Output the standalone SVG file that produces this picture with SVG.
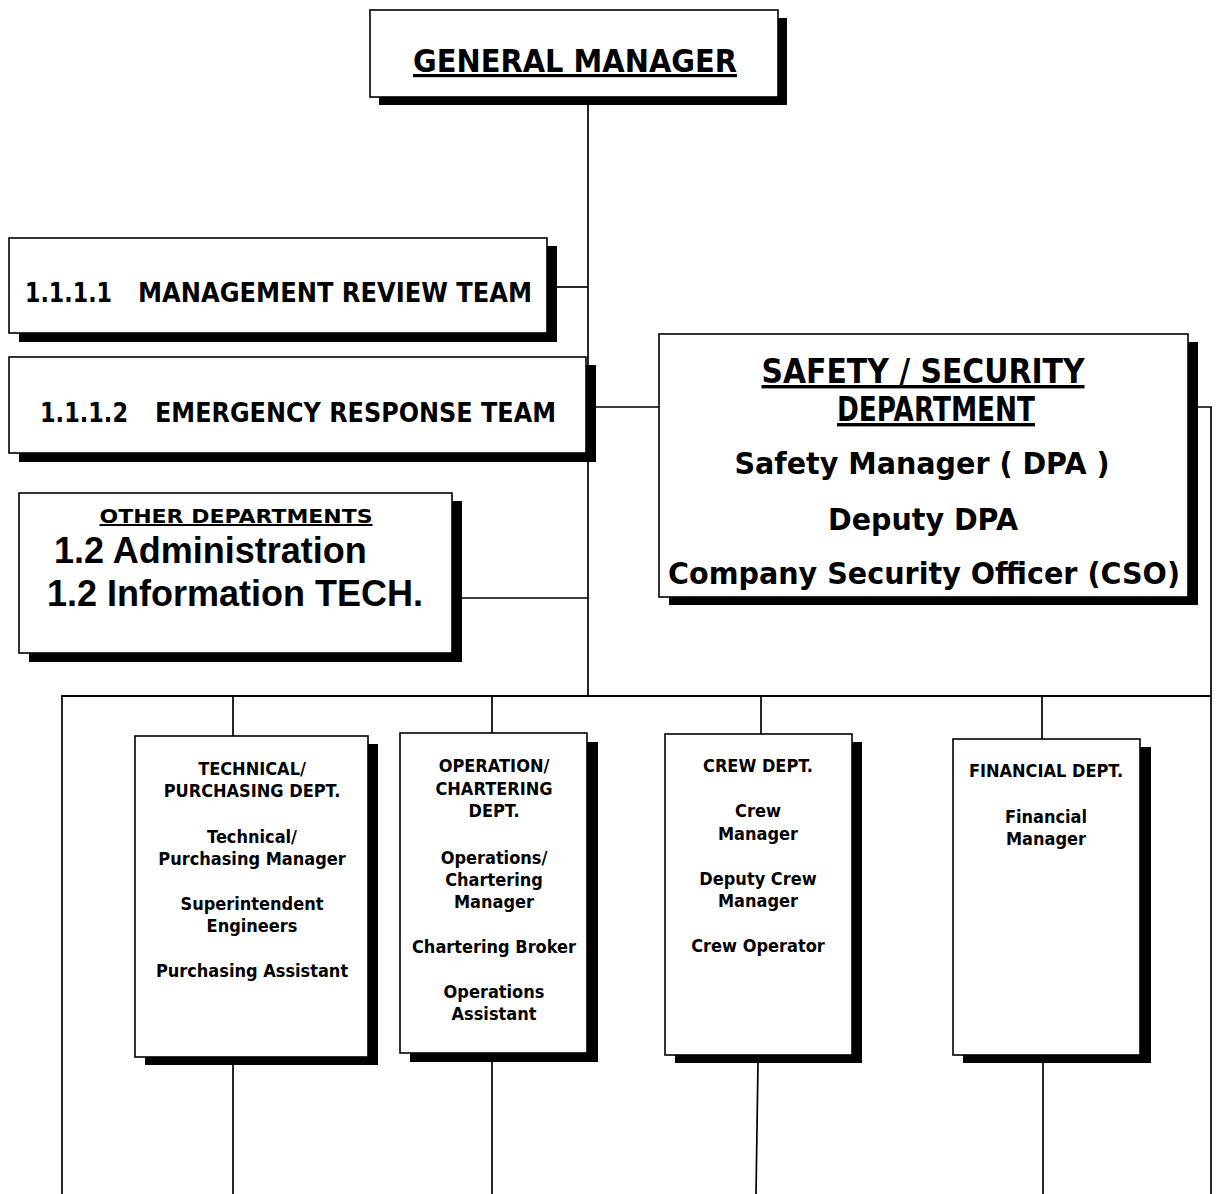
<svg xmlns="http://www.w3.org/2000/svg" width="1216" height="1194" viewBox="0 0 1216 1194">
<style>
  .sh { fill: #000; }
  .bx { fill: #fff; stroke: #000; stroke-width: 1.6; }
  .ln { stroke: #000; stroke-width: 1.7; fill: none; }
  text { font-family: "DejaVu Sans", Verdana, sans-serif; font-weight: bold; fill: #000; }
  .c { text-anchor: middle; }
  .u { text-decoration: underline; }
  .d { font-size: 18px; text-anchor: middle; }
  .ar { font-family: "Liberation Sans", Arial, sans-serif; font-size: 36px; }
</style>
<rect width="1216" height="1194" fill="#fff"/>

<g id="connectors">
  <line class="ln" x1="588" y1="97" x2="588" y2="696"/>
  <line class="ln" x1="557" y1="287" x2="588" y2="287"/>
  <line class="ln" x1="596" y1="407" x2="659" y2="407"/>
  <line class="ln" x1="462" y1="598" x2="588" y2="598"/>
  <polyline class="ln" points="1198,407 1211,407 1211,1194"/>
  <line class="ln" x1="61" y1="696" x2="1211" y2="696" style="stroke-width:2"/>
  <line class="ln" x1="62" y1="696" x2="62" y2="1194"/>
  <line class="ln" x1="233" y1="696" x2="233" y2="736"/>
  <line class="ln" x1="492" y1="696" x2="492" y2="734"/>
  <line class="ln" x1="761" y1="696" x2="761" y2="734"/>
  <line class="ln" x1="1042" y1="696" x2="1042" y2="739"/>
  <line class="ln" x1="233" y1="1065" x2="233" y2="1194"/>
  <line class="ln" x1="492" y1="1062" x2="492" y2="1194"/>
  <line class="ln" x1="758" y1="1063" x2="756" y2="1194"/>
  <line class="ln" x1="1043" y1="1063" x2="1043" y2="1194"/>
</g>

<g id="general-manager">
  <rect class="sh" x="379" y="18" width="408" height="87"/>
  <rect class="bx" x="370" y="10" width="408" height="87"/>
  <text class="c u" x="575" y="72" font-size="32" textLength="324" lengthAdjust="spacingAndGlyphs">GENERAL MANAGER</text>
</g>

<g id="management-review-team">
  <rect class="sh" x="19" y="246" width="538" height="96"/>
  <rect class="bx" x="9" y="238" width="538" height="95"/>
  <text x="25" y="302" font-size="26" textLength="87" lengthAdjust="spacingAndGlyphs">1.1.1.1</text>
  <text x="138" y="302" font-size="26" textLength="394" lengthAdjust="spacingAndGlyphs">MANAGEMENT REVIEW TEAM</text>
</g>

<g id="emergency-response-team">
  <rect class="sh" x="19" y="365" width="577" height="97"/>
  <rect class="bx" x="9" y="357" width="577" height="96"/>
  <text x="40" y="422" font-size="26" textLength="88" lengthAdjust="spacingAndGlyphs">1.1.1.2</text>
  <text x="155" y="422" font-size="26" textLength="401" lengthAdjust="spacingAndGlyphs">EMERGENCY RESPONSE TEAM</text>
</g>

<g id="other-departments">
  <rect class="sh" x="29" y="501" width="433" height="161"/>
  <rect class="bx" x="19" y="493" width="433" height="160"/>
  <text class="c u" x="236" y="523" font-size="20" textLength="273" lengthAdjust="spacingAndGlyphs">OTHER DEPARTMENTS</text>
  <text class="ar" x="54" y="563" font-weight="bold">1.2 Administration</text>
  <text class="ar" x="47" y="606" font-weight="bold">1.2 Information TECH.</text>
</g>

<g id="safety-security-department">
  <rect class="sh" x="669" y="342" width="529" height="263"/>
  <rect class="bx" x="659" y="334" width="529" height="263"/>
  <text class="c u" x="923" y="383" font-size="34" textLength="323" lengthAdjust="spacingAndGlyphs">SAFETY / SECURITY</text>
  <text class="c u" x="936" y="421" font-size="34" textLength="198" lengthAdjust="spacingAndGlyphs">DEPARTMENT</text>
  <text class="c" x="922" y="474" font-size="30" textLength="375" lengthAdjust="spacingAndGlyphs">Safety Manager ( DPA )</text>
  <text class="c" x="923" y="530" font-size="30" textLength="190" lengthAdjust="spacingAndGlyphs">Deputy DPA</text>
  <text class="c" x="924" y="584" font-size="30" textLength="512" lengthAdjust="spacingAndGlyphs">Company Security Officer (CSO)</text>
</g>

<g id="technical-purchasing-dept">
  <rect class="sh" x="145" y="744" width="233" height="321"/>
  <rect class="bx" x="135" y="736" width="233" height="321"/>
  <g transform="translate(252 0) scale(0.9 1)">
    <text class="d" x="0" y="775">TECHNICAL/</text>
    <text class="d" x="0" y="797">PURCHASING DEPT.</text>
    <text class="d" x="0" y="843">Technical/</text>
    <text class="d" x="0" y="865">Purchasing Manager</text>
    <text class="d" x="0" y="910">Superintendent</text>
    <text class="d" x="0" y="932">Engineers</text>
    <text class="d" x="0" y="977">Purchasing Assistant</text>
  </g>
</g>

<g id="operation-chartering-dept">
  <rect class="sh" x="410" y="742" width="188" height="320"/>
  <rect class="bx" x="400" y="733" width="187" height="320"/>
  <g transform="translate(494 0) scale(0.9 1)">
    <text class="d" x="0" y="772">OPERATION/</text>
    <text class="d" x="0" y="795">CHARTERING</text>
    <text class="d" x="0" y="817">DEPT.</text>
    <text class="d" x="0" y="864">Operations/</text>
    <text class="d" x="0" y="886">Chartering</text>
    <text class="d" x="0" y="908">Manager</text>
    <text class="d" x="0" y="953">Chartering Broker</text>
    <text class="d" x="0" y="998">Operations</text>
    <text class="d" x="0" y="1020">Assistant</text>
  </g>
</g>

<g id="crew-dept">
  <rect class="sh" x="675" y="742" width="187" height="321"/>
  <rect class="bx" x="665" y="734" width="187" height="321"/>
  <g transform="translate(758 0) scale(0.9 1)">
    <text class="d" x="0" y="772">CREW DEPT.</text>
    <text class="d" x="0" y="817">Crew</text>
    <text class="d" x="0" y="840">Manager</text>
    <text class="d" x="0" y="885">Deputy Crew</text>
    <text class="d" x="0" y="907">Manager</text>
    <text class="d" x="0" y="952">Crew Operator</text>
  </g>
</g>

<g id="financial-dept">
  <rect class="sh" x="963" y="747" width="188" height="316"/>
  <rect class="bx" x="953" y="739" width="187" height="316"/>
  <g transform="translate(1046 0) scale(0.9 1)">
    <text class="d" x="0" y="777">FINANCIAL DEPT.</text>
    <text class="d" x="0" y="823">Financial</text>
    <text class="d" x="0" y="845">Manager</text>
  </g>
</g>
</svg>
